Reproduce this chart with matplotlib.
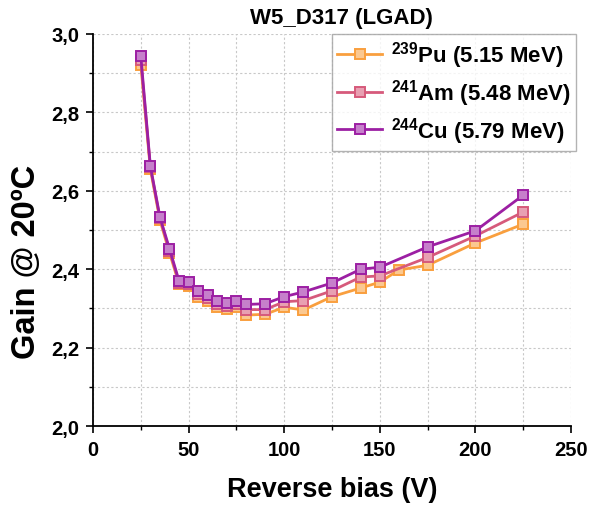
import matplotlib.pyplot as plt
from matplotlib.ticker import MultipleLocator, FuncFormatter

plt.rcParams['font.family'] = 'Liberation Sans'
plt.rcParams['font.weight'] = 'bold'
plt.rcParams['mathtext.fontset'] = 'custom'
plt.rcParams['mathtext.rm'] = 'Liberation Sans:bold'
plt.rcParams['mathtext.bf'] = 'Liberation Sans:bold'

# data
bias_pu = [25, 30, 35, 40, 45, 50, 55, 60, 65, 70, 75, 80, 90, 100, 110, 125, 140, 150, 160, 175, 200, 225]
gain_pu = [2.922, 2.655, 2.525, 2.442, 2.362, 2.357, 2.330, 2.318, 2.303, 2.298, 2.303, 2.283, 2.285, 2.303, 2.296,
           2.330, 2.352, 2.367, 2.398, 2.410, 2.467, 2.515]

bias = [25, 30, 35, 40, 45, 50, 55, 60, 65, 70, 75, 80, 90, 100, 110, 125, 140, 150, 175, 200, 225]
gain_am = [2.933, 2.660, 2.530, 2.447, 2.366, 2.362, 2.337, 2.326, 2.311, 2.306, 2.310, 2.297, 2.297, 2.317, 2.320,
           2.345, 2.380, 2.383, 2.430, 2.485, 2.546]
gain_cu = [2.944, 2.663, 2.533, 2.452, 2.370, 2.367, 2.344, 2.334, 2.320, 2.315, 2.318, 2.310, 2.312, 2.330, 2.342,
           2.365, 2.400, 2.405, 2.457, 2.498, 2.589]

series = [
    (bias_pu, gain_pu, r'$^{239}$Pu (5.15 MeV)', '#F99F3E', '#FBC890'),
    (bias, gain_am, r'$^{241}$Am (5.48 MeV)', '#D65A7B', '#E8A0B2'),
    (bias, gain_cu, r'$^{244}$Cu (5.79 MeV)', '#9C1FA3', '#C680CB'),
]

fig = plt.figure(figsize=(5.98, 5.06), dpi=100)
ax = fig.add_axes([0.1555, 0.156, 0.7995, 0.775])

for i, (x, y, lab, col, fill) in enumerate(series):
    ax.plot(x, y, '-s', color=col, lw=2.0, ms=7.5, mfc=fill, mec=col, mew=1.4,
            label=lab, zorder=3 + i)

ax.set_xlim(0, 250)
ax.set_ylim(2.0, 3.0)
ax.xaxis.set_major_locator(MultipleLocator(50))
ax.xaxis.set_minor_locator(MultipleLocator(25))
ax.yaxis.set_major_locator(MultipleLocator(0.2))
ax.yaxis.set_minor_locator(MultipleLocator(0.1))
ax.yaxis.set_major_formatter(FuncFormatter(lambda v, p: ('%.1f' % v).replace('.', ',')))

ax.grid(True, which='both', color='#C8C8C8', ls=(0, (2, 2)), lw=0.8)
ax.set_axisbelow(True)
for s in ['top', 'right']:
    ax.spines[s].set_visible(False)
for s in ['left', 'bottom']:
    ax.spines[s].set_linewidth(1.3)

ax.tick_params(which='major', direction='out', length=5, width=1.2, labelsize=14.5, pad=5)
ax.tick_params(which='minor', direction='out', length=3, width=1.0)

ax.set_xlabel('Reverse bias (V)', fontsize=19.5, fontweight='bold', labelpad=12)
ax.set_ylabel('Gain @ 20ºC', fontsize=23.5, fontweight='bold')
ax.yaxis.set_label_coords(-0.106, 0.421)
ax.set_title('W5_D317 (LGAD)', fontsize=16, fontweight='bold', pad=8, x=0.52)

leg = ax.legend(loc='upper right', fontsize=16, frameon=True, fancybox=False,
                edgecolor='#A0A0A0', borderpad=0.25, handlelength=2.0, labelspacing=0.3,
                handletextpad=0.4, borderaxespad=0,
                bbox_to_anchor=(576 / 598, 1 - 35 / 506), bbox_transform=fig.transFigure)
leg.get_frame().set_linewidth(1.0)

plt.savefig('out.png', dpi=100)
